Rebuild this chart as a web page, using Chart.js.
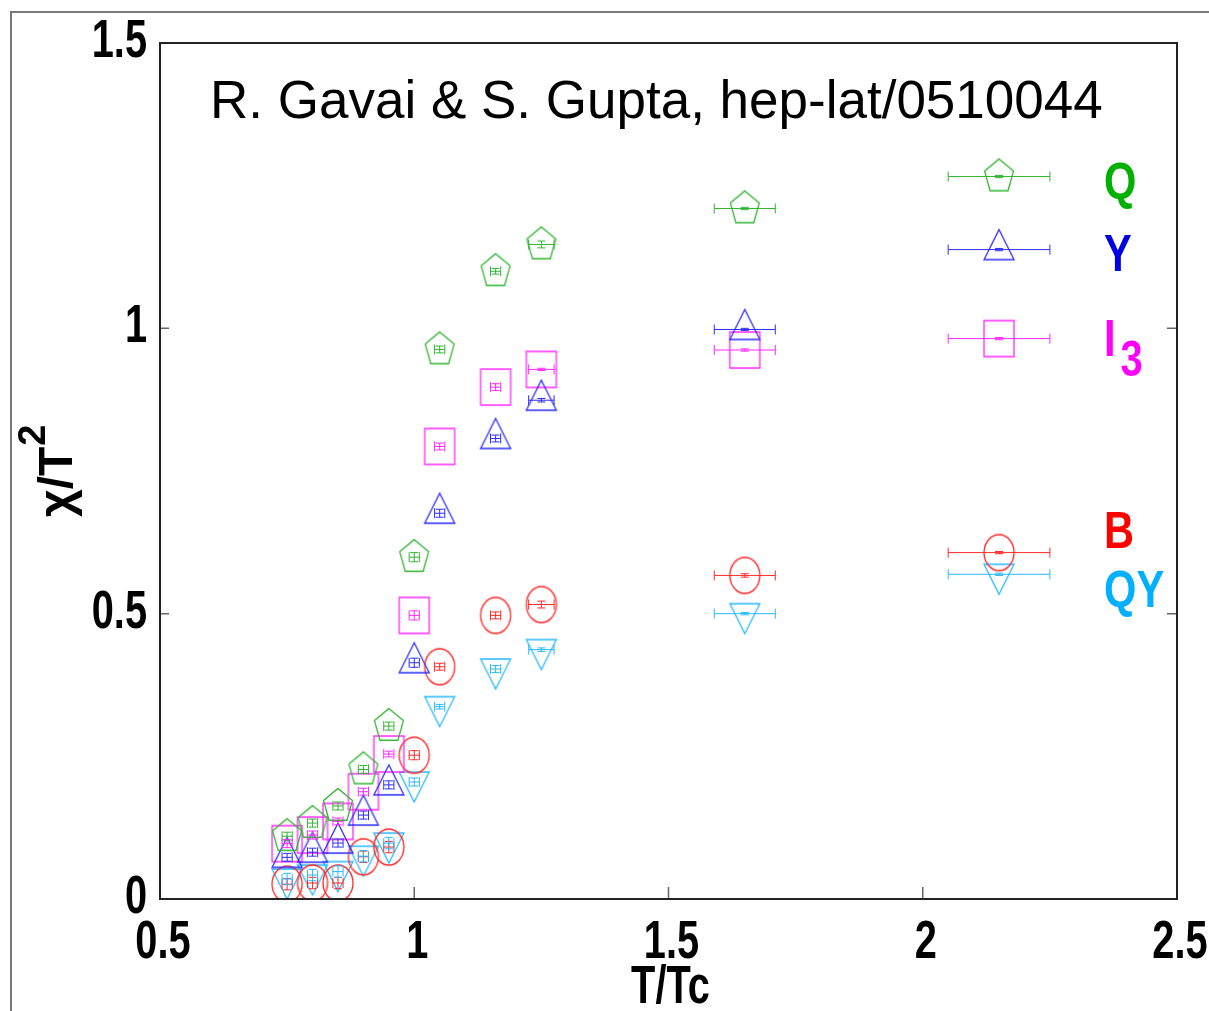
<!DOCTYPE html>
<html>
<head>
<meta charset="utf-8">
<script src="https://cdn.jsdelivr.net/npm/chart.js@4.4.1/dist/chart.umd.min.js"></script>
<style>
  html, body { margin: 0; padding: 0; background: #fff; overflow: hidden; }
  #wrap { position: relative; width: 1240px; height: 1011px; }
</style>
</head>
<body>
<div id="wrap"><canvas id="chiChart" width="1240" height="1011"></canvas></div>
<script>
// temperatures in units of Tc, with their horizontal error half-widths
const tOverTc = [0.75, 0.80, 0.85, 0.90, 0.95, 1.00, 1.05, 1.16, 1.25, 1.65];
const tErr    = [0.01, 0.01, 0.01, 0.01, 0.01, 0.01, 0.01, 0.01, 0.025, 0.06];

// susceptibilities chi/T^2 and their errors
const chiQ  = [0.110, 0.133, 0.163, 0.227, 0.303, 0.599, 0.963, 1.100, 1.147, 1.210];
const errQ  = [0.007, 0.007, 0.007, 0.007, 0.007, 0.008, 0.006, 0.005, 0.006, 0.002];
const chiY  = [0.073, 0.082, 0.098, 0.147, 0.200, 0.414, 0.676, 0.807, 0.874, 0.998];
const errY  = [0.007, 0.007, 0.007, 0.007, 0.007, 0.008, 0.007, 0.006, 0.003, 0.002];
const chiI3 = [0.097, 0.112, 0.136, 0.188, 0.254, 0.497, 0.793, 0.897, 0.928, 0.962];
const errI3 = [0.007, 0.007, 0.006, 0.006, 0.005, 0.008, 0.006, 0.006, 0.002, 0.002];
const chiB  = [0.026, 0.028, 0.028, 0.074, 0.091, 0.252, 0.407, 0.497, 0.516, 0.567];
const errB  = [0.010, 0.010, 0.010, 0.010, 0.010, 0.008, 0.006, 0.006, 0.006, 0.003];
const chiQY = [0.035, 0.042, 0.048, 0.075, 0.098, 0.205, 0.337, 0.403, 0.437, 0.500];
const errQY = [0.010, 0.010, 0.010, 0.010, 0.010, 0.007, 0.004, 0.006, 0.003, 0.002];

// key on the right: one point per quantity
const keyT    = 2.15;
const keyTErr = 0.10;
const keyChi  = [1.266, 1.138, 0.982, 0.607, 0.569];

const xTicks = [0.5, 1, 1.5, 2, 2.5];
const yTicks = [0, 0.5, 1, 1.5];

const sans = "'Liberation Sans', Arial, sans-serif";

// open marker shapes drawn on small canvases, used as point styles
function marker(shape, color) {
  const c = document.createElement('canvas');
  c.width = 34; c.height = 44;
  const g = c.getContext('2d');
  const cx = 17, cy = 22;
  g.strokeStyle = color;
  g.lineWidth = 1.3;
  g.beginPath();
  if (shape === 'pentagon') {
    for (let k = 0; k < 5; k++) {
      const a = -Math.PI / 2 + k * 2 * Math.PI / 5;
      const px = cx + 16 * 0.95 * Math.cos(a), py = cy + 16 * 1.1 * Math.sin(a);
      k ? g.lineTo(px, py) : g.moveTo(px, py);
    }
    g.closePath();
  } else if (shape === 'square') {
    g.rect(cx - 15, cy - 18, 30, 36);
  } else if (shape === 'circle') {
    g.ellipse(cx, cy, 15, 18, 0, 0, Math.PI * 2);
  } else if (shape === 'up') {
    g.moveTo(cx, cy - 20); g.lineTo(cx + 15, cy + 10); g.lineTo(cx - 15, cy + 10); g.closePath();
  } else {
    g.moveTo(cx, cy + 20); g.lineTo(cx + 15, cy - 10); g.lineTo(cx - 15, cy - 10); g.closePath();
  }
  g.stroke();
  return c;
}

const series = [
  { name: 'Q',  chi: chiQ,  err: errQ,  shape: 'pentagon', color: 'rgb(50,180,50)',  text: 'rgb(0,176,0)',   sub: '',  dy: 22 },
  { name: 'Y',  chi: chiY,  err: errY,  shape: 'up',       color: 'rgb(45,45,250)',  text: 'rgb(0,0,230)',   sub: '',  dy: 21 },
  { name: 'I',  chi: chiI3, err: errI3, shape: 'square',   color: 'rgb(255,40,255)', text: 'rgb(255,0,255)', sub: '3', dy: 17 },
  { name: 'B',  chi: chiB,  err: errB,  shape: 'circle',   color: 'rgb(255,40,40)',  text: 'rgb(255,0,0)',   sub: '',  dy: -5 },
  { name: 'QY', chi: chiQY, err: errQY, shape: 'down',     color: 'rgb(40,185,255)', text: 'rgb(0,176,255)', sub: '',  dy: 33 }
];

const datasets = [];
series.forEach((s, i) => {
  const style = marker(s.shape, s.color);
  datasets.push({
    label: s.name + s.sub,
    data: tOverTc.map((t, k) => ({ x: t, y: s.chi[k] })),
    xErr: tErr, yErr: s.err,
    pointStyle: style, borderColor: s.color, showLine: false
  });
  datasets.push({
    label: s.name + s.sub + ' key',
    data: [{ x: keyT, y: keyChi[i] }],
    xErr: [keyTErr], yErr: [0.002],
    pointStyle: style, borderColor: s.color, showLine: false
  });
});

// text squeezed horizontally, like a narrow face
function narrowText(c, txt, x, y, font, align, sx) {
  c.save();
  c.font = font;
  c.textAlign = align;
  c.textBaseline = 'alphabetic';
  c.translate(x, y);
  c.scale(sx, 1);
  c.fillText(txt, 0, 0);
  const w = c.measureText(txt).width * sx;
  c.restore();
  return w;
}

const plotDecor = {
  id: 'plotDecor',
  beforeDraw(chart) {
    const c = chart.ctx;
    c.save();
    c.fillStyle = '#fff';
    c.fillRect(0, 0, chart.width, chart.height);
    // outer figure border
    c.strokeStyle = '#777';
    c.lineWidth = 2;
    c.beginPath();
    c.moveTo(11, chart.height); c.lineTo(11, 12); c.lineTo(chart.width, 12);
    c.stroke();
    c.restore();
  },
  afterDatasetsDraw(chart) {
    const c = chart.ctx, xs = chart.scales.x, ys = chart.scales.y, a = chart.chartArea;
    c.save();
    c.beginPath(); c.rect(a.left, a.top, a.right - a.left, a.bottom - a.top); c.clip();
    c.lineWidth = 1;
    chart.data.datasets.forEach(ds => {
      c.strokeStyle = ds.borderColor;
      ds.data.forEach((p, k) => {
        const px = xs.getPixelForValue(p.x), py = ys.getPixelForValue(p.y);
        const x0 = xs.getPixelForValue(p.x - ds.xErr[k]), x1 = xs.getPixelForValue(p.x + ds.xErr[k]);
        const y0 = ys.getPixelForValue(p.y - ds.yErr[k]), y1 = ys.getPixelForValue(p.y + ds.yErr[k]);
        c.beginPath();
        c.moveTo(x0, py); c.lineTo(x1, py);
        c.moveTo(x0, py - 5); c.lineTo(x0, py + 5);
        c.moveTo(x1, py - 5); c.lineTo(x1, py + 5);
        c.moveTo(px, y0); c.lineTo(px, y1);
        c.moveTo(px - 4, y0); c.lineTo(px + 4, y0);
        c.moveTo(px - 4, y1); c.lineTo(px + 4, y1);
        c.stroke();
      });
    });
    c.restore();
  },
  afterDraw(chart) {
    const c = chart.ctx, xs = chart.scales.x, ys = chart.scales.y, a = chart.chartArea;
    c.save();
    // inward tick marks
    c.strokeStyle = '#666';
    c.lineWidth = 1.5;
    c.beginPath();
    xTicks.slice(1, -1).forEach(v => {
      const px = xs.getPixelForValue(v);
      c.moveTo(px, a.bottom); c.lineTo(px, a.bottom - 12);
    });
    yTicks.slice(1, -1).forEach(v => {
      const py = ys.getPixelForValue(v);
      c.moveTo(a.left, py); c.lineTo(a.left + 9, py);
      c.moveTo(a.right, py); c.lineTo(a.right - 10, py);
    });
    c.stroke();
    // plot box
    c.strokeStyle = '#222';
    c.lineWidth = 2;
    c.strokeRect(a.left, a.top, a.right - a.left, a.bottom - a.top);

    // tick labels taken from the scales
    c.fillStyle = '#000';
    const tickFont = 'bold 53px ' + sans;
    xs.ticks.forEach(t => {
      narrowText(c, String(t.value), xs.getPixelForValue(t.value) + 3, a.bottom + 59, tickFont, 'center', 0.75);
    });
    ys.ticks.forEach(t => {
      narrowText(c, String(t.value), a.left - 13, ys.getPixelForValue(t.value) + 14, tickFont, 'right', 0.75);
    });
    // x axis title
    narrowText(c, 'T/Tc', (a.left + a.right) / 2 + 2, 1003, tickFont, 'center', 0.75);

    // title inside the box
    c.font = '53px ' + sans;
    c.textAlign = 'left';
    c.textBaseline = 'alphabetic';
    c.fillText('R. Gavai & S. Gupta, hep-lat/0510044', 210, 118);

    // key labels
    const kx = xs.getPixelForValue(keyT) + 105;
    series.forEach((s, i) => {
      const ky = ys.getPixelForValue(keyChi[i]) + s.dy;
      c.fillStyle = s.text;
      const w = narrowText(c, s.name, kx, ky, 'bold 52px ' + sans, 'left', 0.8);
      if (s.sub) narrowText(c, s.sub, kx + w + 5, ky + 20, 'bold 50px ' + sans, 'left', 0.8);
    });

    // y axis title with superscript
    c.fillStyle = '#000';
    c.translate(72, 517);
    c.rotate(-Math.PI / 2);
    c.font = 'bold 48px ' + sans;
    c.fillText('\u03c7/T', 0, 0);
    const w = c.measureText('\u03c7/T').width;
    c.font = 'bold 38px ' + sans;
    c.fillText('2', w + 1, -27);
    c.restore();
  }
};

new Chart(document.getElementById('chiChart'), {
  type: 'scatter',
  data: { datasets: datasets },
  options: {
    responsive: false,
    animation: false,
    devicePixelRatio: 1,
    layout: { padding: { left: 0, top: 43, right: 63, bottom: 0 } },
    plugins: { legend: { display: false }, tooltip: { enabled: false } },
    scales: {
      x: {
        type: 'linear', min: 0.5, max: 2.5,
        afterBuildTicks: s => { s.ticks = xTicks.map(v => ({ value: v })); },
        afterFit: s => { s.height = 112; },
        grid: { display: false, drawTicks: false },
        border: { display: false },
        ticks: { display: false }
      },
      y: {
        type: 'linear', min: 0, max: 1.5,
        afterBuildTicks: s => { s.ticks = yTicks.map(v => ({ value: v })); },
        afterFit: s => { s.width = 160; },
        grid: { display: false, drawTicks: false },
        border: { display: false },
        ticks: { display: false }
      }
    }
  },
  plugins: [plotDecor]
});
</script>
</body>
</html>
